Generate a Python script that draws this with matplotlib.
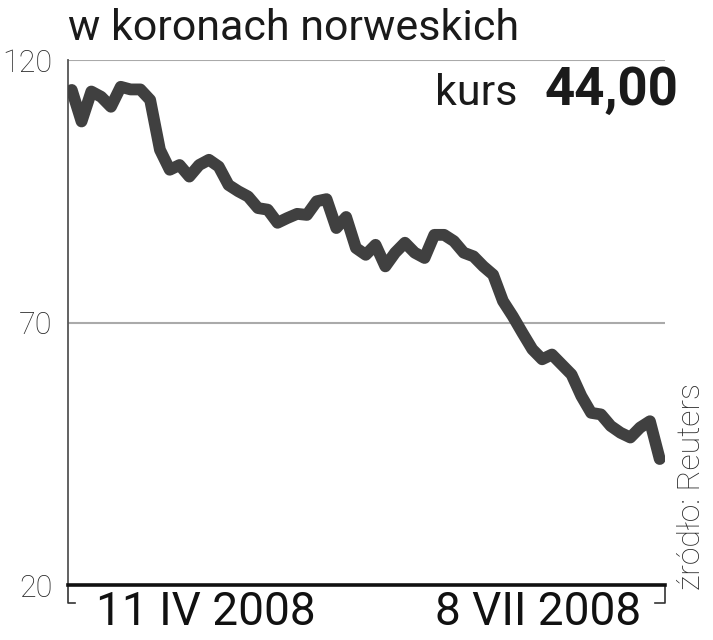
import matplotlib
matplotlib.use('Agg')
import matplotlib.pyplot as plt
import numpy as np

# kurs w koronach norweskich, notowania dzienne 11 IV - 8 VII 2008
kurs = [114.3, 108.3, 114.0, 113.0, 111.1, 114.9, 114.4, 114.4, 112.4, 102.9,
        99.1, 100.0, 97.8, 100.0, 101.0, 99.7, 96.2, 95.0, 94.0, 91.8,
        91.5, 89.0, 89.9, 90.7, 90.5, 93.1, 93.5, 88.0, 90.1, 84.2,
        82.9, 84.8, 80.7, 83.3, 85.2, 83.3, 82.3, 86.7, 86.7, 85.5,
        83.3, 82.6, 80.7, 79.1, 74.1, 71.2, 68.0, 64.9, 63.0, 63.9,
        62.0, 60.1, 56.0, 52.8, 52.5, 50.3, 49.0, 48.1, 50.0, 51.2,
        44.0]
y_ticks = [20, 70, 120]
x_labels = ['11 IV 2008', '8 VII 2008']
tytul = 'w koronach norweskich'
zrodlo = 'źródło: Reuters'

dni = np.arange(len(kurs))

fig = plt.figure(figsize=(7.13, 6.40), dpi=100)
ax = fig.add_axes([0.0954, 0.0859, 0.8373, 0.8203])

for v in y_ticks[1:]:
    ax.axhline(v, color='#aaaaaa', lw=1.5, zorder=1)

ax.plot(dni, kurs, color='#404040', lw=8.5, solid_joinstyle='round',
        solid_capstyle='round', zorder=3)

ax.set_xlim(-0.38, 60.54)
ax.set_ylim(20, 120)
ax.set_yticks(y_ticks)
ax.set_yticklabels([str(v) for v in y_ticks], fontsize=22, color='#2a2a2a',
                   family='Roboto', weight='light')
ax.tick_params(axis='y', length=0, pad=11)
ax.set_xticks([])

for s in ['top', 'right']:
    ax.spines[s].set_visible(False)
ax.spines['left'].set_color('#555555')
ax.spines['left'].set_linewidth(1.3)
ax.spines['bottom'].set_color('#111111')
ax.spines['bottom'].set_linewidth(2.6)
ax.spines['bottom'].set_zorder(4)

# nawias pod osią
tr = ax.get_xaxis_transform()
ax.plot([-0.38, -0.38, 0.35], [0, -0.035, -0.035], transform=tr, color='#333333',
        lw=1.2, clip_on=False)
ax.plot([60.54, 60.54, 59.5], [0, -0.035, -0.035], transform=tr, color='#333333',
        lw=1.2, clip_on=False)

fig.text(0.0954, 0.9375, tytul, fontsize=31, color='#1a1a1a', family='Roboto',
         va='baseline', ha='left')
fig.text(0.726, 0.836, 'kurs', fontsize=31, color='#1a1a1a', family='Roboto',
         va='baseline', ha='right')
fig.text(0.952, 0.836, '44,00', fontsize=38, color='#1a1a1a', family='Roboto',
         weight='bold', va='baseline', ha='right')

fig.text(0.134, 0.024, x_labels[0], fontsize=33, color='#111111',
         family='Roboto', va='baseline', ha='left')
fig.text(0.899, 0.024, x_labels[1], fontsize=33, color='#111111',
         family='Roboto', va='baseline', ha='right')

fig.text(0.99, 0.24, zrodlo, fontsize=23, color='#2a2a2a', family='Roboto',
         weight='light', rotation=90, va='center', ha='right')

fig.savefig('out.png', dpi=100)
